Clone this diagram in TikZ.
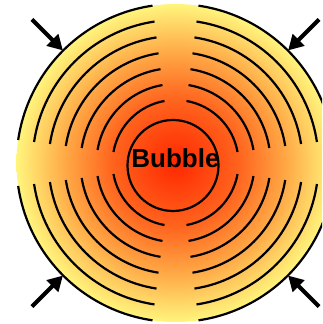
\documentclass[tikz,border=0pt]{standalone}
\usepackage{fontspec}
\usepackage{xcolor}
\usetikzlibrary{arrows.meta,calc}
\newfontfamily\bubblefont{Liberation Sans}
\definecolor{bubblecore}{RGB}{255,40,0}
\definecolor{bubblehot}{RGB}{255,100,30}
\definecolor{bubblewarm}{RGB}{255,170,70}
\definecolor{bubbleedge}{RGB}{255,245,125}
\pgfdeclareradialshading{bubbleglow}{\pgfpointorigin}{color(0bp)=(bubblecore); color(10bp)=(bubblehot); color(17.5bp)=(bubblewarm); color(25bp)=(bubbleedge); color(50bp)=(bubbleedge)}
\tikzset{
  ringline/.style={line width=2.2pt},
  pusharrow/.style={-{Triangle[length=15pt,width=16pt]}, line width=4pt}
}

\begin{document}
\begin{tikzpicture}[x=1pt, y=1pt]
    \useasboundingbox (0,0) rectangle (322,324);
    \clip (0,0) rectangle (322,324);
    \node[circle, minimum size=318pt, inner sep=0pt, shading=bubbleglow] (drop) at (175.5,161) {};

    % rings, broken on the axes
    \foreach \r in {63,79,...,159} {
        \pgfmathsetmacro\gap{asin((11+0.125*(\r-63))/\r)}
        \foreach \q in {0,90,180,270}
            \draw[ringline] ($(drop.center)+(\q+\gap:\r)$) arc[start angle=\q+\gap, end angle=\q+90-\gap, radius=\r];
    }

    \node[circle, draw, line width=2.2pt, minimum size=91pt, inner sep=0pt] (bubble) at (173,158.5) {};
    \node[font=\bubblefont\bfseries\fontsize{26}{30}\selectfont] (bubblelabel) at (175.5,166) {Bubble};

    \coordinate (tailnw) at ($(drop.center)+(135:203)$);
    \coordinate (tailne) at ($(drop.center)+(45:203)$);
    \coordinate (tailsw) at ($(drop.center)+(225:203)$);
    \coordinate (tailse) at ($(drop.center)+(315:203)$);
    \draw[pusharrow] (tailnw) -- (drop.135);
    \draw[pusharrow] (tailne) -- (drop.45);
    \draw[pusharrow] (tailsw) -- (drop.225);
    \draw[pusharrow] (tailse) -- (drop.315);
\end{tikzpicture}
\end{document}
